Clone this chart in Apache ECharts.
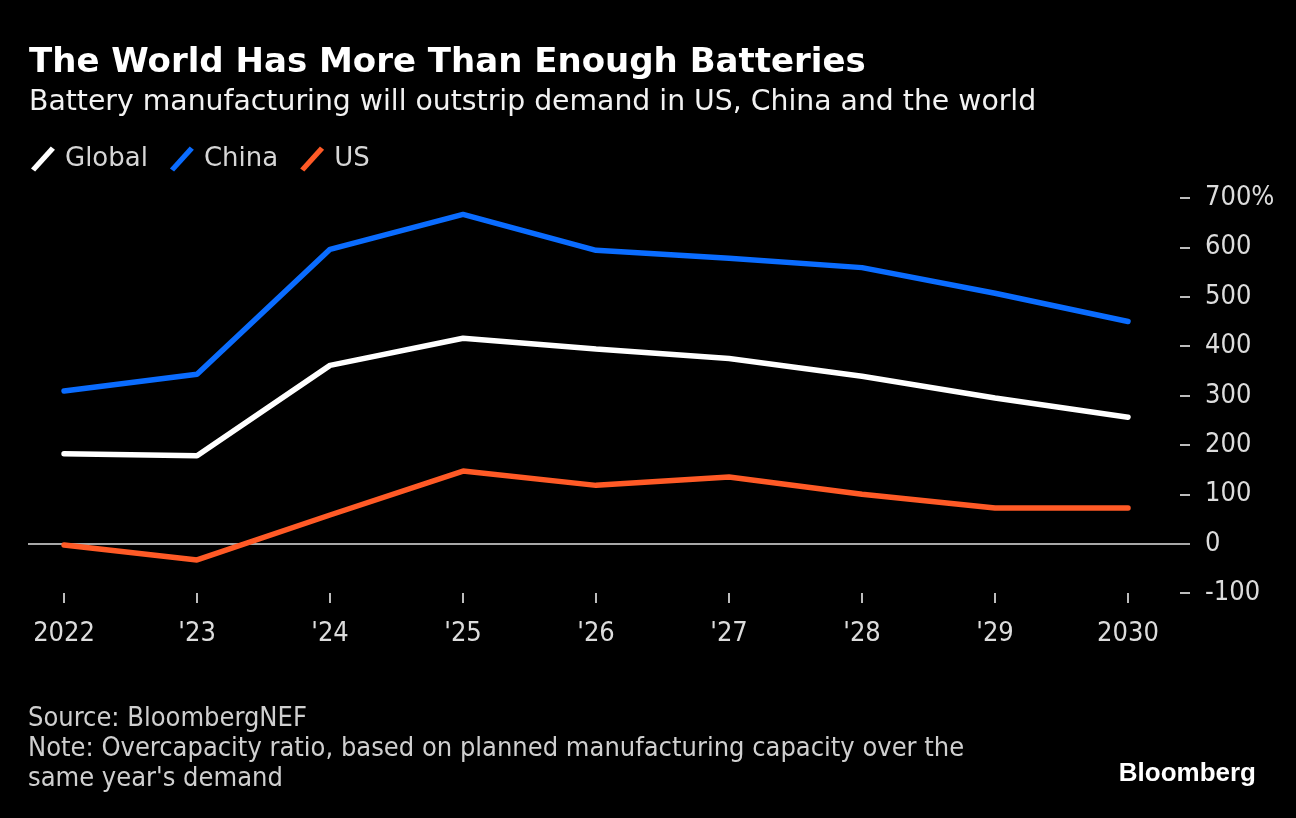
<!DOCTYPE html>
<html>
<head>
<meta charset="utf-8">
<script src="https://cdn.jsdelivr.net/npm/echarts@6/dist/echarts.min.js"></script>
<style>
html,body{margin:0;padding:0;background:#000;}
#chart{width:1296px;height:818px;}
</style>
</head>
<body>
<div id="chart"></div>
<script>
// ---- data ----
const years = [2022, 2023, 2024, 2025, 2026, 2027, 2028, 2029, 2030];
const xTickLabels = ['2022', "'23", "'24", "'25", "'26", "'27", "'28", "'29", '2030'];
const globalValues = [182, 178, 361, 416, 394, 375, 339, 295, 256];
const chinaValues  = [309, 343, 596, 667, 594, 578, 559, 507, 450];
const usValues     = [-3, -33, 58, 147, 118, 135, 100, 72, 72];

const titleText = 'The World Has More Than Enough Batteries';
const subtitleText = 'Battery manufacturing will outstrip demand in US, China and the world';
const footerText = "Source: BloombergNEF\nNote: Overcapacity ratio, based on planned manufacturing capacity over the\nsame year's demand";

const pair = arr => years.map((y, i) => [y, arr[i]]);
const slash = 'path://M19,0 L23,3 L4,24 L0,21 Z';

const chart = echarts.init(document.getElementById('chart'), null, {renderer: 'canvas'});
chart.setOption({
  backgroundColor: '#000000',
  animation: false,
  title: [
    {text: titleText, left: 29, top: 46, padding: 0,
     textStyle: {color: '#ffffff', fontFamily: 'DejaVu Sans', fontWeight: 'bold', fontSize: 34}},
    {text: subtitleText, left: 29, top: 89, padding: 0,
     textStyle: {color: '#f2f2f2', fontFamily: 'DejaVu Sans', fontWeight: 'normal', fontSize: 28.3}},
    {text: footerText, left: 28, top: 704, padding: 0,
     textStyle: {color: '#cfcfcf', fontFamily: 'DejaVu Sans Condensed', fontWeight: 'normal', fontSize: 27, lineHeight: 30}},
    {text: 'Bloomberg', right: 40, top: 761, padding: 0,
     textStyle: {color: '#ffffff', fontFamily: 'Liberation Sans', fontWeight: 'bold', fontSize: 26}}
  ],
  legend: {
    left: 26, top: 141,
    itemWidth: 24, itemHeight: 25, itemGap: 22,
    icon: slash,
    textStyle: {color: '#d6d6d6', fontFamily: 'DejaVu Sans', fontSize: 26, padding: [0, 0, 0, 5]},
    data: ['Global', 'China', 'US']
  },
  grid: {left: 28, right: 106, top: 198, bottom: 225, containLabel: false},
  xAxis: {
    type: 'value',
    min: 2021.729, max: 2030.466,
    axisLine: {show: false, onZero: false},
    splitLine: {show: false},
    axisTick: {show: true, customValues: years, length: 10, lineStyle: {color: '#bdbdbd', width: 2}},
    axisLabel: {
      customValues: years, margin: 27,
      color: '#dcdcdc', fontFamily: 'DejaVu Sans Condensed', fontSize: 27,
      formatter: v => xTickLabels[years.indexOf(Math.round(v))] || ''
    }
  },
  yAxis: {
    type: 'value', position: 'right',
    min: -100, max: 700, interval: 100,
    axisLine: {show: false},
    splitLine: {show: false},
    axisTick: {show: true, inside: true, length: 10, lineStyle: {color: '#bdbdbd', width: 2}},
    axisLabel: {
      margin: 15, color: '#dcdcdc', fontFamily: 'DejaVu Sans Condensed', fontSize: 27,
      formatter: v => v === 700 ? '700%' : String(v)
    }
  },
  series: [
    {name: 'Global', type: 'line', data: pair(globalValues), symbol: 'none', color: '#ffffff',
     lineStyle: {width: 5.5, color: '#ffffff', cap: 'round'}, z: 3},
    {name: 'China', type: 'line', data: pair(chinaValues), symbol: 'none', color: '#0a6cff',
     lineStyle: {width: 5.5, color: '#0a6cff', cap: 'round'}, z: 3},
    {name: 'US', type: 'line', data: pair(usValues), symbol: 'none', color: '#ff5a26',
     lineStyle: {width: 5.5, color: '#ff5a26', cap: 'round'}, z: 3,
     markLine: {silent: true, symbol: ['none', 'none'], label: {show: false}, z: 1,
       lineStyle: {color: '#a8a8a8', width: 2, type: 'solid'},
       data: [{yAxis: 0}]}}
  ]
});
</script>
</body>
</html>
